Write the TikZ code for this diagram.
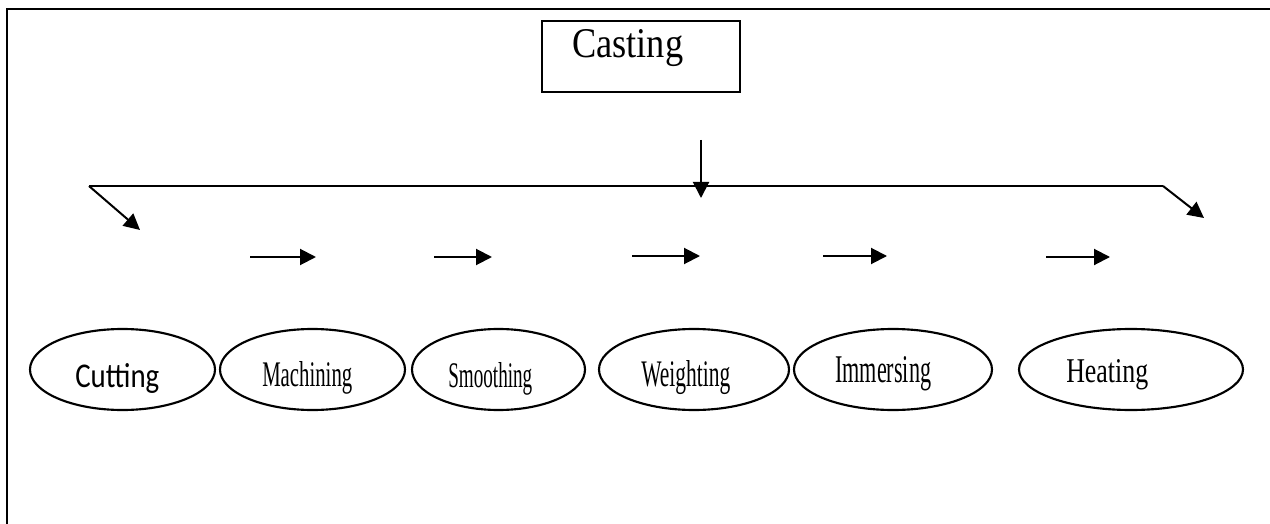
\documentclass[tikz,border=0pt]{standalone}
\usepackage{fontspec}
\setmainfont{Liberation Serif}
\newfontfamily\cutfont{Carlito}
\usetikzlibrary{arrows.meta,shapes.geometric}
\begin{document}
\begin{tikzpicture}[x=0.75pt,y=-0.75pt,
  ln/.style={line width=1.5pt,black},
  arr/.style={ln,-{Triangle[length=12pt,width=12pt]}},
  stage/.style={draw,ellipse,line width=1.6pt,inner sep=0pt,minimum height=60.75pt},
  lbl/.style={anchor=base west,inner sep=0pt}]
\useasboundingbox (0,0) rectangle (1270,524);
% frame (top and left only)
\coordinate (fbl) at (7,524);
\coordinate (ftl) at (7,9);
\coordinate (ftr) at (1270,9);
\draw[line width=1.8pt] (fbl) -- (ftl) -- (ftr);
% casting box
\node[draw,line width=1.5pt,minimum width=148.5pt,minimum height=53.25pt,inner sep=0pt] (cast) at (641,56.5) {};
\node[lbl] (casttxt) at (572,58) {\resizebox{83.25pt}{21pt}{Casting}};
% distribution line
\coordinate (vtop) at (701,140);
\coordinate (vbot) at (701,198);
\coordinate (hl) at (89,186);
\coordinate (hr) at (1163,186);
\coordinate (dl) at (140,230);
\coordinate (dr) at (1204,218);
\draw[ln] (hl) -- (hr);
\draw[arr] (vtop) -- (vbot);
\draw[arr] (hl) -- (dl);
\draw[arr] (hr) -- (dr);
% small arrows
\coordinate (a1s) at (250,257); \coordinate (a1e) at (316,257);
\coordinate (a2s) at (434,257); \coordinate (a2e) at (492,257);
\coordinate (a3s) at (632,256); \coordinate (a3e) at (700,256);
\coordinate (a4s) at (823,256); \coordinate (a4e) at (887,256);
\coordinate (a5s) at (1046,257); \coordinate (a5e) at (1110,257);
\draw[arr] (a1s) -- (a1e);
\draw[arr] (a2s) -- (a2e);
\draw[arr] (a3s) -- (a3e);
\draw[arr] (a4s) -- (a4e);
\draw[arr] (a5s) -- (a5e);
% stages
\node[stage,minimum width=138.75pt] (cut) at (122.5,369.5) {};
\node[stage,minimum width=138.75pt] (mach) at (312.5,369.5) {};
\node[stage,minimum width=129.75pt] (smooth) at (498.5,369.5) {};
\node[stage,minimum width=142.5pt] (weight) at (694,369.5) {};
\node[stage,minimum width=148.5pt] (immers) at (893,369.5) {};
\node[stage,minimum width=168pt] (heat) at (1131,369.5) {};
\node[lbl] (cuttxt) at (75,387) {\resizebox{63pt}{18pt}{\cutfont Cutting}};
\node[lbl] (machtxt) at (262,386) {\resizebox{67.5pt}{18.75pt}{Machining}};
\node[lbl] (smoothtxt) at (448,387) {\resizebox{63pt}{18.75pt}{Smoothing}};
\node[lbl] (weighttxt) at (641,386) {\resizebox{66.75pt}{19.5pt}{Weighting}};
\node[lbl] (immerstxt) at (835,382) {\resizebox{72pt}{19.5pt}{Immersing}};
\node[lbl] (heattxt) at (1066,382) {\resizebox{61.5pt}{17.25pt}{Heating}};
\end{tikzpicture}
\end{document}
